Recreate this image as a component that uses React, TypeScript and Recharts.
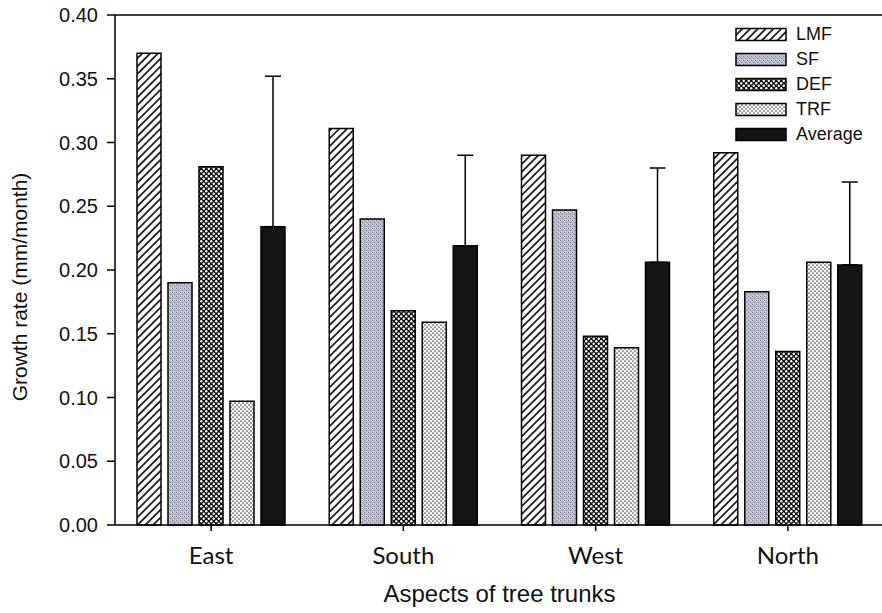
import { BarChart, Bar, XAxis, YAxis, ErrorBar, ReferenceLine } from "recharts";

const aspects = ["East", "South", "West", "North"];
const lmf = [0.37, 0.311, 0.29, 0.292];
const sf = [0.19, 0.24, 0.247, 0.183];
const def = [0.281, 0.168, 0.148, 0.136];
const trf = [0.097, 0.159, 0.139, 0.206];
const average = [0.234, 0.219, 0.206, 0.204];
const averageUpper = [0.352, 0.29, 0.28, 0.269];
const yTicks = [0, 0.05, 0.1, 0.15, 0.2, 0.25, 0.3, 0.35, 0.4];

const data = aspects.map((a, i) => ({
    aspect: a,
    LMF: lmf[i],
    SF: sf[i],
    DEF: def[i],
    TRF: trf[i],
    Average: average[i],
    avgErr: [0, averageUpper[i] - average[i]],
}));

const SERIES = [
    { key: "LMF", fill: "url(#patLMF)" },
    { key: "SF", fill: "url(#patSF)" },
    { key: "DEF", fill: "url(#patDEF)" },
    { key: "TRF", fill: "url(#patTRF)" },
    { key: "Average", fill: "#141414" },
];

const FONT = "'Liberation Sans', Arial, sans-serif";

const LegendBox = () => (
    <div style={{ position: "absolute", left: 735, top: 22, display: "flex", flexDirection: "column", fontFamily: FONT, background: "#fff", paddingRight: 10 }}>
        {SERIES.map((s) => (
            <div key={s.key} style={{ display: "flex", alignItems: "center", height: "25px" }}>
                <svg width={53} height={15} style={{ display: "block" }}>
                    <rect x={1} y={1.5} width={50} height={12} fill={s.fill} stroke="#000" strokeWidth={1.5} />
                </svg>
                <span style={{ fontSize: "18px", color: "#111", marginLeft: "8px" }}>{s.key}</span>
            </div>
        ))}
    </div>
);

const YLabel = () => (
    <text x={21} y={287} transform="rotate(-90 21 287)" textAnchor="middle" dominantBaseline="middle"
        style={{ fontFamily: FONT, fontSize: 21, fill: "#111" }}>
        Growth rate (mm/month)
    </text>
);

export default function App() {
    return (
        <div style={{ position: "absolute", left: 0, top: 0, width: 882, height: 613, overflow: "hidden", background: "#fff" }}>
            <BarChart width={890} height={613} data={data} margin={{ top: 15, right: 6, left: 0, bottom: 0 }}
                barSize={24} barGap={7}>
                <defs>
                    <pattern id="patLMF" width={5.5} height={5.5} patternUnits="userSpaceOnUse" patternTransform="rotate(45)">
                        <rect width={5.5} height={5.5} fill="#fff" />
                        <line x1={1} y1={0} x2={1} y2={5.5} stroke="#111" strokeWidth={1.7} />
                    </pattern>
                    <pattern id="patSF" width={4} height={4} patternUnits="userSpaceOnUse">
                        <rect width={4} height={4} fill="#b9bac9" />
                        <rect x={0} y={0} width={1} height={1} fill="#7d7e92" />
                        <rect x={2} y={2} width={1} height={1} fill="#8a8b99" />
                        <rect x={3} y={0} width={1} height={1} fill="#d8d9e2" />
                        <rect x={1} y={3} width={1} height={1} fill="#d4d5de" />
                    </pattern>
                    <pattern id="patDEF" width={5} height={5} patternUnits="userSpaceOnUse">
                        <rect width={5} height={5} fill="#0d0d0d" />
                        <circle cx={1.25} cy={1.25} r={1.2} fill="#fff" />
                        <circle cx={3.75} cy={3.75} r={1.2} fill="#fff" />
                    </pattern>
                    <pattern id="patTRF" width={4} height={4} patternUnits="userSpaceOnUse">
                        <rect width={4} height={4} fill="#f6f6f6" />
                        <circle cx={1} cy={1} r={0.85} fill="#555" />
                        <circle cx={3} cy={3} r={0.85} fill="#555" />
                    </pattern>
                </defs>
                <XAxis dataKey="aspect" height={88} stroke="#000" strokeWidth={1.5} tickSize={6} tickMargin={16}
                    tick={{ fontFamily: "Lato, sans-serif", fontSize: 24, fill: "#111" }}
                    label={{ value: "Aspects of tree trunks", position: "insideBottom", offset: 11,
                        style: { fontFamily: FONT, fontSize: 24, fill: "#111" } }} />
                <YAxis width={115} domain={[0, 0.4]} ticks={yTicks} stroke="#000" strokeWidth={1.5}
                    tickSize={8} tickMargin={9} tickFormatter={(v: number) => v.toFixed(2)}
                    tick={{ fontFamily: FONT, fontSize: 20, fill: "#111" }}
                    label={{ content: () => <YLabel /> }} />
                <ReferenceLine y={0.4} stroke="#000" strokeWidth={1.5} />
                {SERIES.map((s) => (
                    <Bar key={s.key} dataKey={s.key} fill={s.fill} stroke="#000" strokeWidth={1.5} isAnimationActive={false}>
                        {s.key === "Average" && (
                            <ErrorBar dataKey="avgErr" width={8} stroke="#000" strokeWidth={1.5} direction="y" />
                        )}
                    </Bar>
                ))}
            </BarChart>
            <LegendBox />
        </div>
    );
}
